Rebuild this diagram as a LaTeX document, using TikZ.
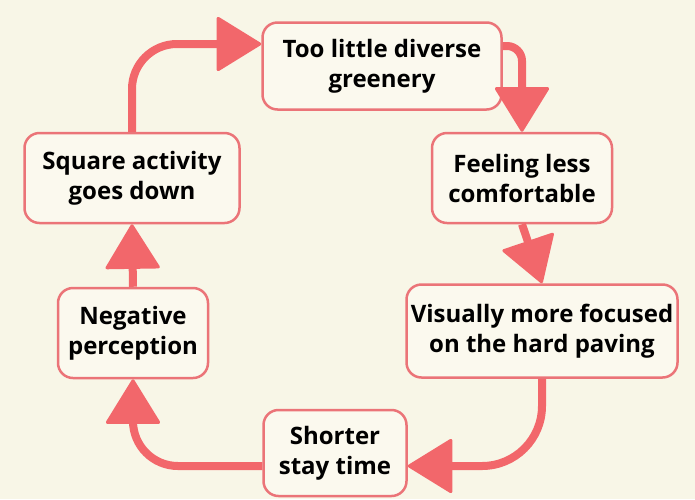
\documentclass[tikz,border=0pt]{standalone}
\usepackage{fontspec}
\setmainfont{Open Sans}
\usepackage{tikz}
\usetikzlibrary{arrows.meta}
\definecolor{bgcream}{HTML}{F8F6E7}
\definecolor{boxfill}{HTML}{FBF9EE}
\definecolor{boxline}{HTML}{EB7478}
\definecolor{loopred}{HTML}{F2676B}

\begin{document}
\begin{tikzpicture}[x=1pt, y=-1pt]
    % styles
    \tikzstyle{cause} = [rectangle, rounded corners=15pt, draw=boxline, line width=2.5pt, fill=boxfill, align=center, inner sep=2pt, font=\fontsize{24}{30}\selectfont\bfseries]
    \tikzstyle{loop} = [line width=8pt, draw=loopred, -{Triangle[length=46pt, width=56pt, round, line width=3pt]}]

    % background
    \fill[bgcream] (0,0) rectangle (695,499);
    \useasboundingbox (0,0) rectangle (695,499);

    % nodes
    \node (green) [cause, minimum width=239pt, minimum height=87pt] at (382,66) {Too little diverse\\greenery};
    \node (comfort) [cause, minimum width=180pt, minimum height=90pt] at (522,178) {Feeling less\\comfortable};
    \node (paving) [cause, minimum width=271pt, minimum height=93pt] at (542,331) {Visually more focused\\on the hard paving};
    \node (stay) [cause, minimum width=143pt, minimum height=86pt] at (335,453) {Shorter\\stay time};
    \node (percept) [cause, minimum width=150pt, minimum height=90pt] at (133,333) {Negative\\perception};
    \node (square) [cause, minimum width=215pt, minimum height=90pt] at (132,178) {Square activity\\goes down};

    % connections
    \draw [loop, rounded corners=45pt] (square.north) |- ([yshift=22pt]green.west);
    \draw [loop, rounded corners=15pt] ([yshift=20pt]green.east) -| (comfort.north);
    \draw [loop] (comfort.south) -- (paving.north);
    \draw [loop, rounded corners=60pt] (paving.south) |- ([yshift=-13pt]stay.east);
    \draw [loop, rounded corners=45pt] ([yshift=-13pt]stay.west) -| (percept.south);
    \draw [loop] (percept.north) -- (square.south);
\end{tikzpicture}
\end{document}
